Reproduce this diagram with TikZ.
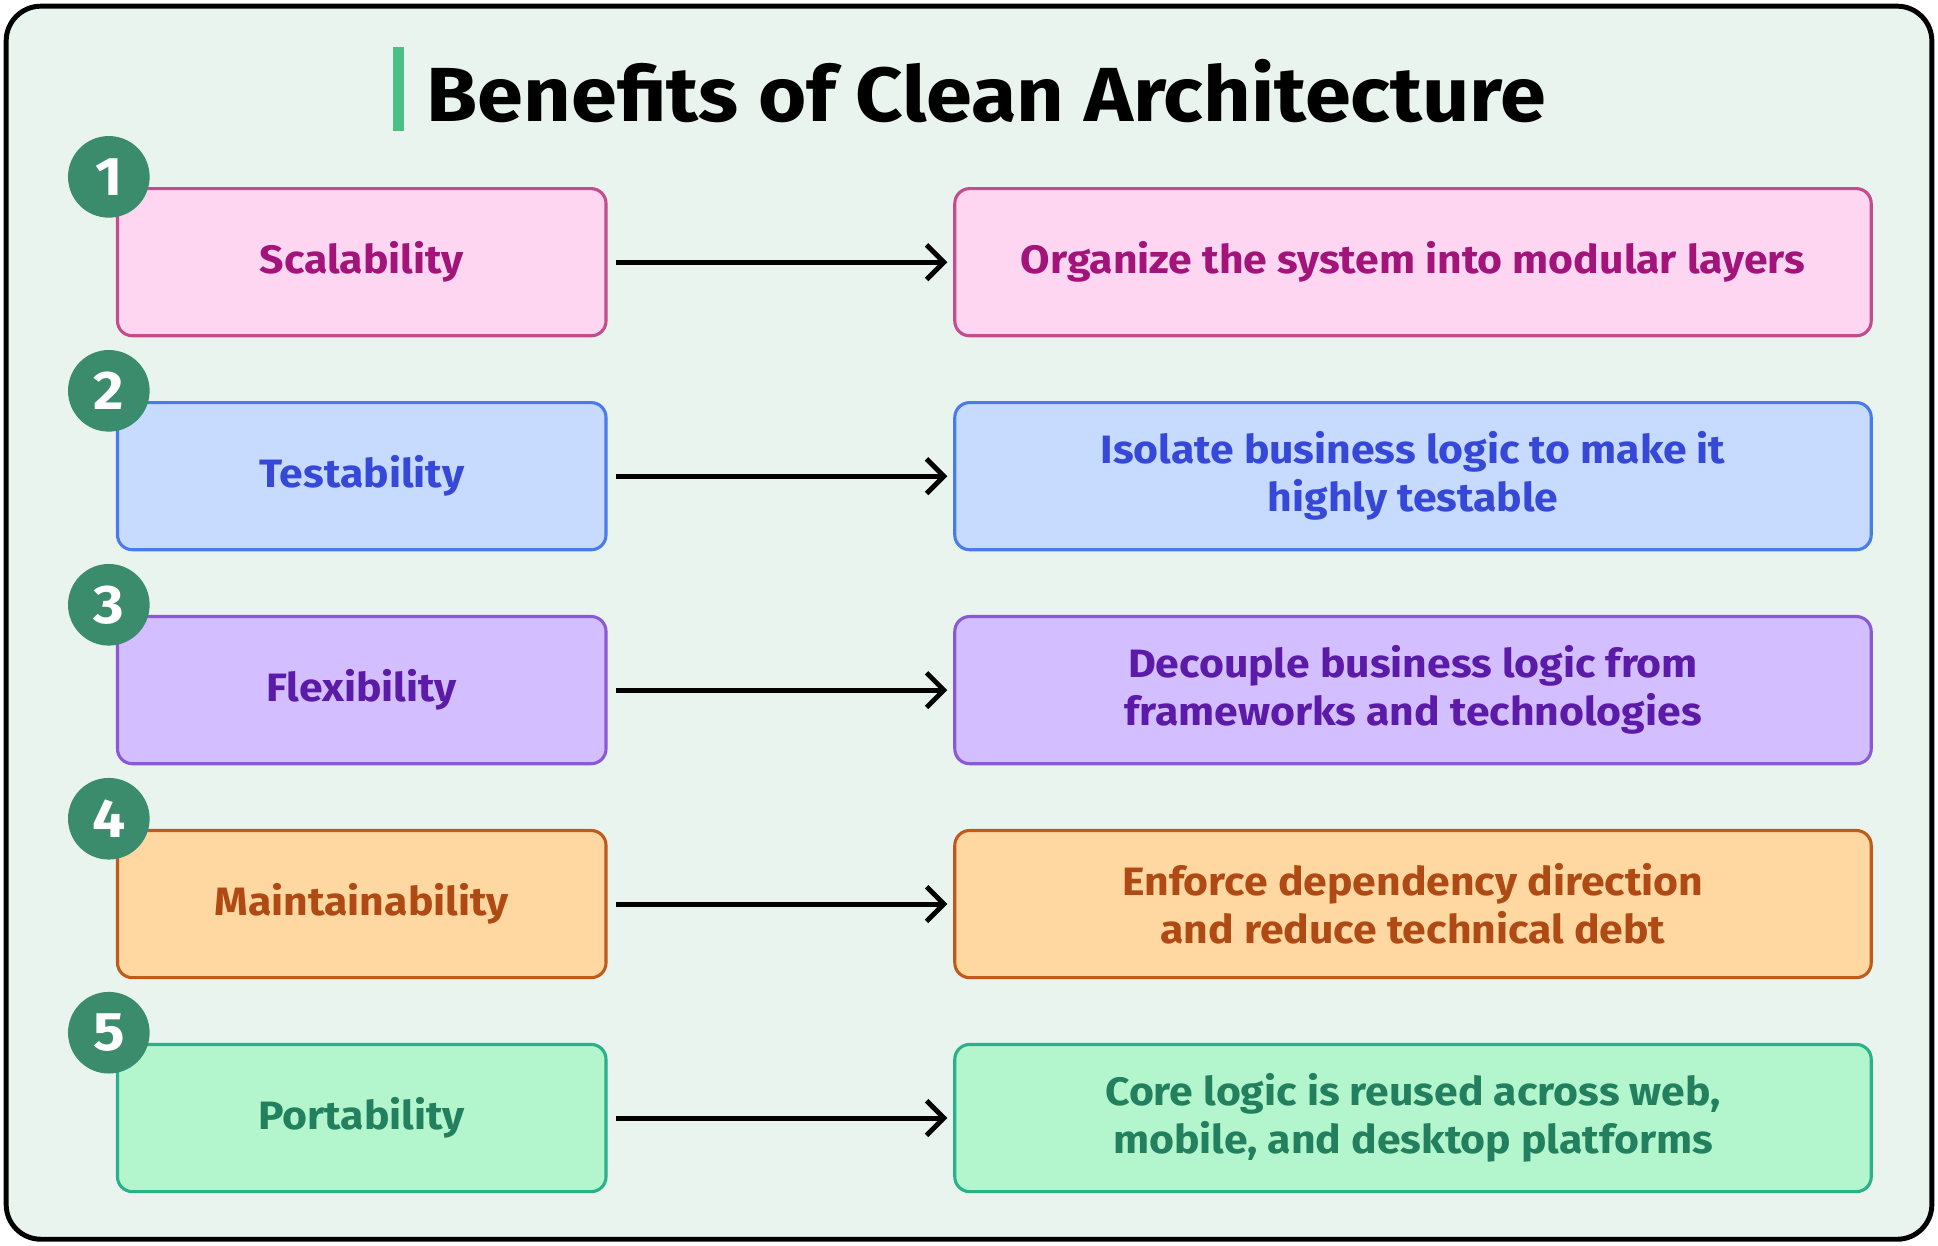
\documentclass[tikz,border=0pt]{standalone}
\usepackage{fontspec}
\setmainfont[FakeStretch=1.08]{Fira Sans}
\usetikzlibrary{arrows.meta}
\definecolor{bg}{HTML}{EAF4EF}
\definecolor{circ}{HTML}{3A8C6C}
\definecolor{bar}{HTML}{4CC084}
\definecolor{fa}{HTML}{FFD6F1}\definecolor{ba}{HTML}{C44C8C}\definecolor{ta}{HTML}{A3147A}
\definecolor{fb}{HTML}{C7DAFF}\definecolor{bb}{HTML}{4A7BEA}\definecolor{tb}{HTML}{3548D8}
\definecolor{fc}{HTML}{D3BFFF}\definecolor{bc}{HTML}{8A5AD6}\definecolor{tc}{HTML}{5B1AA8}
\definecolor{fd}{HTML}{FFD7A0}\definecolor{bd}{HTML}{C05A1A}\definecolor{td}{HTML}{B04A14}
\definecolor{fe}{HTML}{B3F5CC}\definecolor{be}{HTML}{2AB08A}\definecolor{te}{HTML}{23805E}
\tikzset{
 lbox/.style={draw=#1, line width=1.25pt, rounded corners=6pt, minimum width=197.5pt, minimum height=59.5pt, font=\fontsize{16}{19}\selectfont\bfseries, align=center},
 rbox/.style={draw=#1, line width=1.25pt, rounded corners=6pt, minimum width=370.5pt, minimum height=59.5pt, font=\fontsize{16}{19.5}\selectfont\bfseries, align=center},
 num/.style={circle, fill=circ, minimum size=33pt, inner sep=0pt, text=white, font=\fontsize{22}{22}\selectfont\bfseries},
 arr/.style={line width=2pt, -{Straight Barb[length=7pt,width=14pt,line width=2pt]}}
}
\begin{document}
\begin{tikzpicture}[x=0.5pt,y=-0.5pt]
\useasboundingbox (0,0) rectangle (1567,1007);
\draw[line width=2pt, fill=bg, rounded corners=14pt] (5,5) rectangle (1562,1002);
\fill[bar] (318,38) rectangle (327,106);
\node[anchor=west, font=\fontsize{31}{31}\selectfont\bfseries] (title) at (338,74) {Benefits of Clean Architecture};
\foreach \i/\y/\f/\b/\t/\L/\R in {
 1/212/fa/ba/ta/Scalability/{Organize the system into modular layers},
 2/385/fb/bb/tb/Testability/{Isolate business logic to make it\\highly testable},
 3/558/fc/bc/tc/Flexibility/{Decouple business logic from\\frameworks and technologies},
 4/731/fd/bd/td/Maintainability/{Enforce dependency direction\\and reduce technical debt},
 5/904/fe/be/te/Portability/{Core logic is reused across web,\\mobile, and desktop platforms}}{
 \node[lbox=\b, fill=\f, text=\t] (l\i) at (292.5,\y) {\L};
 \node[rbox=\b, fill=\f, text=\t] (r\i) at (1142.5,\y) {\R};
 \node[num] (n\i) at (88,\y-69) {\i};
 \coordinate (a\i) at (498,\y);
 \coordinate (b\i) at (766,\y);
 \draw[arr] (a\i) -- (b\i);
}
\end{tikzpicture}
\end{document}
